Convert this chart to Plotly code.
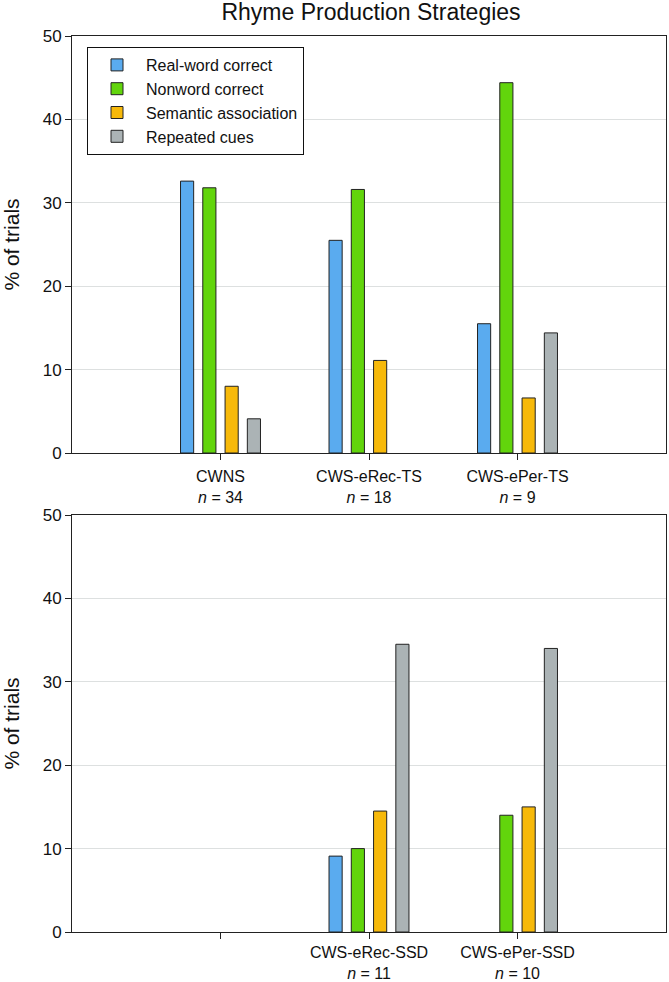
import plotly.graph_objects as go
from plotly.subplots import make_subplots

series = ["Real-word correct", "Nonword correct", "Semantic association", "Repeated cues"]
colors = ["#5aabef", "#62d50c", "#f7b90a", "#abb3b5"]

top_groups = ["CWNS", "CWS-eRec-TS", "CWS-ePer-TS"]
top_n = [34, 18, 9]
top_values = {
    "Real-word correct": [32.6, 25.5, 15.5],
    "Nonword correct": [31.8, 31.6, 44.4],
    "Semantic association": [8.0, 11.1, 6.6],
    "Repeated cues": [4.1, None, 14.4],
}

bottom_groups = ["", "CWS-eRec-SSD", "CWS-ePer-SSD"]
bottom_n = [None, 11, 10]
bottom_values = {
    "Real-word correct": [None, 9.1, None],
    "Nonword correct": [None, 10.0, 14.0],
    "Semantic association": [None, 14.5, 15.0],
    "Repeated cues": [None, 34.5, 34.0],
}

def labels(groups, ns):
    out = []
    for g, n in zip(groups, ns):
        out.append(f"{g}<br><i>n</i> = {n}" if n is not None else "")
    return out

fig = make_subplots(rows=2, cols=1)
font = "Liberation Sans, Arial, sans-serif"

for row, groups, vals in [(1, top_groups, top_values), (2, bottom_groups, bottom_values)]:
    xs = list(range(1, len(groups) + 1))
    for s, c in zip(series, colors):
        fig.add_trace(go.Bar(
            x=xs, y=vals[s], name=s, marker=dict(color=c, line=dict(color="#222222", width=1)),
            showlegend=(row == 1)), row=row, col=1)

W, H = 669, 982
xd = [72 / W, 666 / W]
fig.update_layout(
    template="none",
    width=W, height=H, margin=dict(l=0, r=0, t=0, b=0, autoexpand=False),
    paper_bgcolor="white", plot_bgcolor="white",
    barmode="group", bargap=0.4, bargroupgap=0.41,
    font=dict(family=font, size=16, color="#111111"),
    title=dict(text="Rhyme Production Strategies", x=371 / W, xanchor="center",
               y=1 - 12 / H, yanchor="middle", font=dict(size=23, family=font, color="#111111")),
    legend=dict(x=87 / W, y=1 - 47 / H, xanchor="left", yanchor="top",
                bordercolor="#111111", borderwidth=1, bgcolor="white",
                font=dict(size=16, family=font), tracegroupgap=0, itemwidth=48),
)

yd = {1: [1 - 453 / H, 1 - 36 / H], 2: [1 - 932 / H, 1 - 515 / H]}
for row, groups, ns, so in [(1, top_groups, top_n, 3), (2, bottom_groups, bottom_n, 0)]:
    fig.update_xaxes(row=row, col=1, domain=xd, range=[0, 4], tickmode="array", automargin=False,
                     tickvals=list(range(1, len(groups) + 1)), ticktext=labels(groups, ns),
                     showline=True, linecolor="#222222", linewidth=1, mirror=True,
                     ticks="outside", ticklen=6, tickcolor="#222222", showgrid=False,
                     ticklabelstandoff=so,
                     tickfont=dict(size=16, family=font), zeroline=False)
    fig.update_yaxes(row=row, col=1, domain=yd[row], range=[0, 50], tickvals=[0, 10, 20, 30, 40, 50],
                     automargin=False,
                     showline=True, linecolor="#222222", linewidth=1, mirror=True,
                     ticks="outside", ticklen=6, tickcolor="#222222",
                     showgrid=True, gridcolor="#dde0e0", gridwidth=1, zeroline=False,
                     tickfont=dict(size=17, family=font),
                     title=dict(text="% of trials", font=dict(size=21, family=font), standoff=24))

fig.write_html("out.html", config={"displayModeBar": False},
               post_script="document.body.style.margin='0';document.body.style.overflow='hidden';")
